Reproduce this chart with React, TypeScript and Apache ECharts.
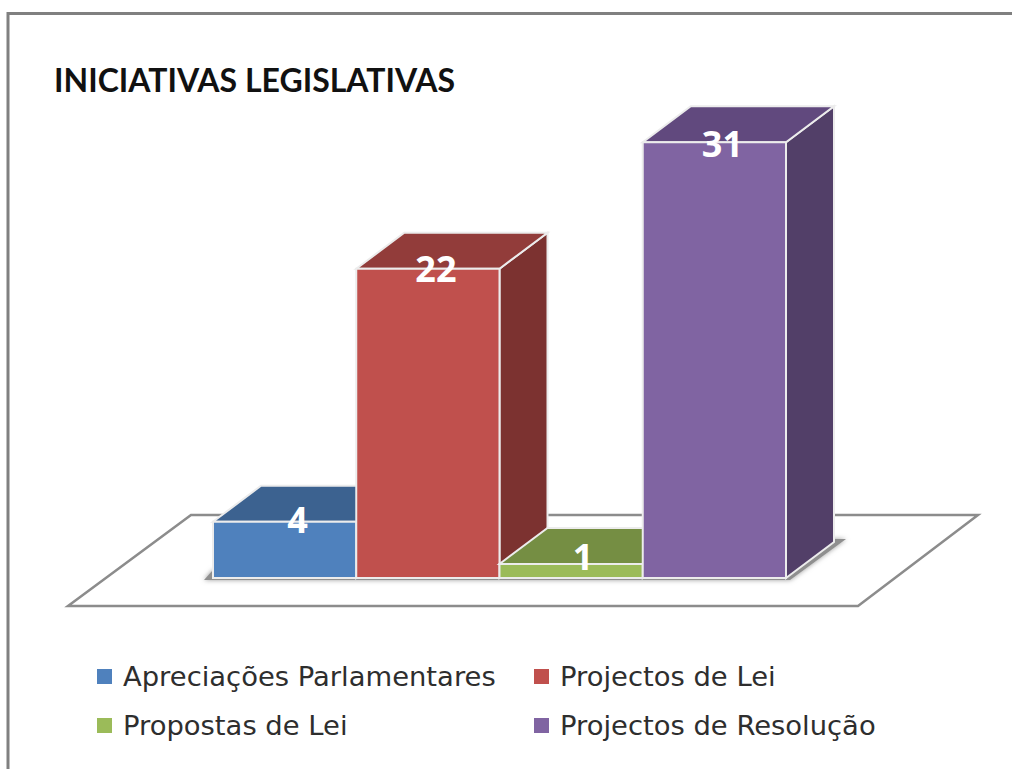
import React, { useEffect, useRef } from "react";
import * as echarts from "echarts";

const titleText = "INICIATIVAS LEGISLATIVAS";
const categories = ["Apreciações Parlamentares", "Projectos de Lei", "Propostas de Lei", "Projectos de Resolução"];
const values = [4, 22, 1, 31];
const frontColors = ["#4F81BD", "#C0504D", "#9BBB59", "#8064A2"];
const topColors = ["#3C6290", "#923C3A", "#758E43", "#61497E"];
const sideColors = ["#335378", "#7C3230", "#62783A", "#523F68"];
const labelNudgeY = [-2, 0, -7, 1];
const labelNudgeX = [13, 8, 12, 8];

const DEPTH_X = 48;
const DEPTH_Y = 36;
const EDGE = "#ECECEC";

function makeRender(i: number) {
  return (_p: any, api: any) => {
    const idx = api.value(0);
    const val = api.value(1);
    const top = api.coord([idx, val]);
    const base = api.coord([idx, 0]);
    const w = api.size([1, 0])[0];
    const l = top[0] - w / 2;
    const r = top[0] + w / 2;
    const t = top[1];
    const b = base[1];
    const edge = { stroke: EDGE, lineWidth: 2 };
    return {
      type: "group",
      children: [
        {
          type: "polygon",
          shape: { points: [[r, t], [r + DEPTH_X, t - DEPTH_Y], [r + DEPTH_X, b - DEPTH_Y], [r, b]] },
          style: { fill: sideColors[i], ...edge },
        },
        {
          type: "polygon",
          shape: { points: [[l, t], [l + DEPTH_X, t - DEPTH_Y], [r + DEPTH_X, t - DEPTH_Y], [r, t]] },
          style: { fill: topColors[i], ...edge },
        },
        {
          type: "rect",
          shape: { x: l, y: t, width: w, height: b - t },
          style: { fill: frontColors[i], ...edge },
        },
        {
          type: "text",
          x: top[0] + labelNudgeX[i],
          y: t + labelNudgeY[i],
          style: {
            text: String(val),
            fill: "#FFFFFF",
            font: 'bold 36px "Open Sans"',
            align: "center",
            verticalAlign: "middle",
          },
        },
      ],
    };
  };
}

export default function App() {
  const ref = useRef<HTMLDivElement>(null);
  useEffect(() => {
    const chart = echarts.init(ref.current!, null, { renderer: "svg" });
    const legendBase = {
      orient: "vertical",
      top: 663,
      itemWidth: 15,
      itemHeight: 15,
      itemGap: 22,
      icon: "rect",
      padding: 0,
      textStyle: { fontFamily: "DejaVu Sans", fontSize: 27.4, color: "#2E2E2E", padding: [0, 0, 0, 6], lineHeight: 25 },
    };
    chart.setOption({
      animation: false,
      backgroundColor: "#FFFFFF",
      title: {
        text: titleText,
        left: 54,
        top: 63,
        padding: 0,
        textStyle: { fontFamily: "Lato", fontWeight: "bold", fontSize: 32, color: "#111111" },
      },
      grid: { left: 213, top: 86, width: 573, height: 492 },
      xAxis: { type: "category", data: categories, show: false },
      yAxis: { type: "value", min: 0, max: 35, show: false },
      legend: [
        { ...legendBase, left: 97, data: [categories[0], categories[2]] },
        { ...legendBase, left: 534, data: [categories[1], categories[3]] },
      ],
      graphic: [
        {
          type: "rect",
          z: -10,
          shape: { x: 8, y: 13.5, width: 1100, height: 900 },
          style: { fill: "#FFFFFF", stroke: "#808080", lineWidth: 3 },
        },
        {
          type: "polygon",
          z: -9,
          shape: { points: [[68, 606], [858, 606], [978, 515], [191, 515]] },
          style: { fill: "#FFFFFF", stroke: "#8C8C8C", lineWidth: 2.5 },
        },
        {
          type: "polygon",
          z: -8,
          shape: { points: [[204, 580], [790, 580], [846, 539], [828, 539], [786, 570], [213, 570]] },
          style: { fill: "#8F8F8F", shadowBlur: 5, shadowColor: "#9A9A9A" },
        },
      ],
      series: categories.map((name, i) => ({
        type: "custom",
        name,
        coordinateSystem: "cartesian2d",
        itemStyle: { color: frontColors[i] },
        encode: { x: 0, y: 1 },
        data: [[i, values[i]]],
        renderItem: makeRender(i),
        clip: false,
      })),
    });
    return () => chart.dispose();
  }, []);
  return <div ref={ref} style={{ position: "absolute", left: 0, top: 0, width: 1012, height: 769 }} />;
}
